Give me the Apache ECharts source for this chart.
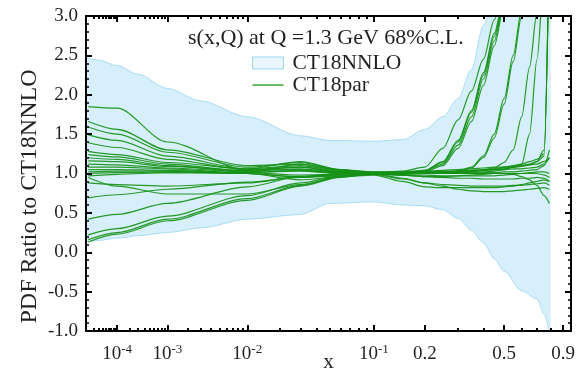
<!DOCTYPE html>
<html>
<head>
<meta charset="utf-8">
<script src="https://cdn.jsdelivr.net/npm/echarts@6/dist/echarts.min.js"></script>
<style>
  html, body { margin: 0; padding: 0; background: #fff; }
  #chart { width: 578px; height: 372px; }
</style>
</head>
<body>
<div id="chart"></div>
<script>
// x axis is drawn in t = x^0.2 space
var X_MIN = 1.07e-5;
var X_MAX = 0.969;

var tickX = [1e-4, 1e-3, 1e-2, 0.1, 0.2, 0.5, 0.9];
var tickLabels = [['10', '-4'], ['10', '-3'], ['10', '-2'], ['10', '-1'], ['0.2'], ['0.5'], ['0.9']];

// CT18NNLO 68% band
var bandX  = [1.07e-5, 3e-5, 1e-4, 3e-4, 1e-3, 3e-3, 0.01, 0.03, 0.05, 0.1, 0.15, 0.2, 0.25, 0.3, 0.35, 0.4, 0.45, 0.5, 0.6, 0.7, 0.75, 0.8];
var bandHi = [2.47, 2.44, 2.37, 2.26, 2.08, 1.92, 1.72, 1.48, 1.42, 1.41, 1.43, 1.56, 1.72, 1.95, 2.32, 2.88, 3.3, 3.55, 3.85, 4.05, 4.15, 4.25];
var bandLo = [0.13, 0.15, 0.18, 0.21, 0.25, 0.31, 0.42, 0.48, 0.62, 0.64, 0.60, 0.59, 0.54, 0.43, 0.28, 0.12, -0.08, -0.24, -0.49, -0.59, -0.78, -1.10];

// CT18par members
var parX = [1.3e-5, 1e-4, 1e-3, 0.01, 0.03, 0.06, 0.1, 0.15, 0.2, 0.25, 0.3, 0.35, 0.4, 0.45, 0.5, 0.55, 0.6, 0.65, 0.7, 0.75, 0.79];
var parSets = [
  [1.85, 1.83, 1.40, 1.04, 1.08, 1.02, 1.01, 1.03, 1.08, 1.32, 1.68, 2.05, 2.45, 2.95, 3.40, 3.8, 4.2, 4.5, 4.8, 5.0, 5.2],
  [1.66, 1.56, 1.30, 1.10, 1.12, 1.04, 1.02, 1.02, 1.02, 1.03, 1.03, 1.04, 1.04, 1.05, 1.05, 1.06, 1.06, 1.07, 1.08, 1.12, 1.20],
  [1.59, 1.50, 1.27, 1.08, 1.14, 1.05, 1.01, 1.01, 1.03, 1.12, 1.36, 1.72, 2.20, 2.68, 3.18, 3.6, 4.0, 4.4, 4.7, 4.9, 5.1],
  [1.49, 1.42, 1.22, 1.06, 1.10, 1.03, 1.00, 1.01, 1.04, 1.15, 1.42, 1.80, 2.28, 2.78, 3.25, 3.7, 4.1, 4.5, 4.8, 5.0, 5.2],
  [1.39, 1.33, 1.18, 1.05, 1.08, 1.02, 1.00, 1.00, 1.01, 1.01, 1.02, 1.03, 1.04, 1.05, 1.06, 1.08, 1.09, 1.11, 1.15, 1.30, 4.0],
  [1.28, 1.24, 1.14, 1.06, 1.15, 1.05, 1.02, 1.00, 1.00, 1.01, 1.03, 1.08, 1.22, 1.50, 1.95, 2.50, 3.08, 3.6, 4.0, 4.3, 4.5],
  [1.24, 1.21, 1.12, 1.03, 1.06, 1.02, 0.99, 0.98, 0.98, 0.97, 0.97, 0.97, 0.97, 0.97, 0.98, 0.99, 1.00, 1.01, 1.02, 1.02, 1.00],
  [1.20, 1.18, 1.10, 1.02, 1.12, 1.04, 1.01, 1.00, 1.02, 1.10, 1.32, 1.66, 2.12, 2.62, 3.12, 3.55, 3.95, 4.3, 4.6, 4.8, 5.0],
  [1.16, 1.15, 1.09, 1.04, 1.05, 1.01, 1.00, 1.01, 1.02, 1.02, 1.03, 1.04, 1.05, 1.06, 1.08, 1.10, 1.12, 1.15, 1.18, 1.25, 4.0],
  [1.12, 1.11, 1.07, 1.02, 1.03, 1.00, 1.00, 1.00, 1.00, 1.00, 1.00, 1.00, 1.01, 1.01, 1.02, 1.02, 1.03, 1.04, 1.05, 1.10, 1.30],
  [1.08, 1.08, 1.06, 1.00, 0.96, 0.98, 1.00, 1.00, 1.00, 1.00, 1.01, 1.02, 1.04, 1.07, 1.14, 1.30, 1.72, 2.35, 3.05, 3.70, 4.20],
  [1.05, 1.05, 1.04, 1.01, 0.98, 0.99, 0.99, 0.99, 1.00, 1.00, 1.00, 1.00, 1.00, 1.00, 1.00, 1.00, 1.00, 1.00, 1.00, 0.98, 0.95],
  [1.02, 1.03, 1.03, 1.00, 0.95, 0.97, 0.99, 1.00, 1.00, 1.00, 1.01, 1.01, 1.02, 1.03, 1.05, 1.08, 1.12, 1.50, 2.45, 3.50, 4.20],
  [1.00, 1.01, 1.02, 1.01, 1.04, 1.01, 1.01, 1.02, 1.04, 1.14, 1.40, 1.78, 2.25, 2.74, 3.22, 3.65, 4.05, 4.4, 4.7, 4.9, 5.1],
  [0.97, 0.99, 1.01, 1.00, 0.92, 0.96, 0.98, 0.90, 0.83, 0.82, 0.82, 0.82, 0.82, 0.82, 0.83, 0.84, 0.86, 0.88, 0.90, 0.92, 0.90],
  [0.95, 0.84, 0.74, 0.74, 0.86, 0.96, 1.00, 0.98, 0.96, 0.96, 0.97, 0.98, 0.99, 1.00, 1.00, 0.99, 0.96, 0.92, 0.85, 0.72, 0.62],
  [0.88, 0.86, 0.84, 0.88, 0.96, 1.00, 1.00, 0.94, 0.88, 0.86, 0.85, 0.84, 0.84, 0.84, 0.84, 0.85, 0.85, 0.86, 0.87, 0.88, 0.85],
  [0.69, 0.73, 0.80, 0.89, 0.95, 0.99, 1.01, 1.01, 1.01, 1.02, 1.02, 1.03, 1.04, 1.05, 1.07, 1.08, 1.10, 1.12, 1.15, 1.22, 4.0],
  [0.42, 0.48, 0.62, 0.83, 0.96, 1.00, 1.00, 0.98, 0.96, 0.95, 0.94, 0.94, 0.93, 0.93, 0.93, 0.93, 0.94, 0.94, 0.95, 0.94, 0.90],
  [0.22, 0.30, 0.46, 0.72, 0.88, 0.97, 1.00, 1.00, 1.00, 1.01, 1.03, 1.07, 1.20, 1.45, 1.88, 2.42, 3.0, 3.5, 3.9, 4.2, 4.4],
  [0.16, 0.25, 0.42, 0.68, 0.85, 0.96, 0.99, 0.93, 0.88, 0.84, 0.80, 0.78, 0.77, 0.77, 0.77, 0.78, 0.79, 0.80, 0.81, 0.82, 0.80],
  [0.13, 0.23, 0.40, 0.66, 0.84, 0.95, 1.00, 1.01, 1.03, 1.04, 1.05, 1.06, 1.07, 1.08, 1.08, 1.09, 1.10, 1.11, 1.12, 1.15, 1.20]
];

var FONT = '"Liberation Serif", "Times New Roman", serif';
var INK = '#231f20';

function tx(x) { return Math.pow(x, 0.2); }

// minor ticks: 2..9 per decade, plus 0.3,0.4,0.6,0.7,0.8
var minorX = [];
for (var k = -5; k <= -2; k++) {
  for (var m = 2; m <= 9; m++) {
    var v = m * Math.pow(10, k);
    if (v > X_MIN) minorX.push(v);
  }
}
minorX.push(0.3, 0.4, 0.6, 0.7, 0.8);

var majorT = tickX.map(tx);
var minorT = minorX.map(tx);

function tickFormatter(val) {
  var best = 0;
  for (var i = 1; i < majorT.length; i++) {
    if (Math.abs(majorT[i] - val) < Math.abs(majorT[best] - val)) best = i;
  }
  var lab = tickLabels[best];
  return lab.length > 1 ? '{n|' + lab[0] + '}{e|' + lab[1] + '}' : '{n|' + lab[0] + '}';
}

function xAxisDef(pos, ticks, len, main) {
  return {
    type: 'value',
    position: pos,
    z: 10,
    min: tx(X_MIN),
    max: tx(X_MAX),
    splitLine: { show: false },
    axisLine: { show: main, onZero: false, lineStyle: { color: '#000', width: 2 } },
    axisTick: { show: true, inside: true, length: len, customValues: ticks,
      lineStyle: { color: '#000', width: 2 } },
    axisLabel: main && pos === 'bottom' ? {
      show: true, customValues: majorT, margin: 12, formatter: tickFormatter,
      rich: {
        n: { fontFamily: FONT, fontSize: 19, color: INK, lineHeight: 22, verticalAlign: 'middle' },
        e: { fontFamily: FONT, fontSize: 13, color: INK, lineHeight: 13, verticalAlign: 'top' }
      }
    } : { show: false },
    name: main && pos === 'bottom' ? 'x' : '',
    nameLocation: 'middle',
    nameGap: 21,
    nameMoveOverlap: false,
    nameTextStyle: { fontFamily: FONT, fontSize: 21, color: INK }
  };
}

function yAxisDef(pos) {
  return {
    type: 'value',
    position: pos,
    z: 10,
    min: -1,
    max: 3,
    interval: 0.5,
    splitLine: { show: false },
    axisLine: { show: true, onZero: false, lineStyle: { color: '#000', width: 2 } },
    axisTick: { show: true, inside: true, length: 6, lineStyle: { color: '#000', width: 2 } },
    minorTick: { show: true, splitNumber: 5, length: 3, lineStyle: { color: '#000', width: 1.5 } },
    axisLabel: pos === 'left' ? {
      show: true, margin: 8, fontFamily: FONT, fontSize: 19, color: INK,
      formatter: function (v) { return v.toFixed(1); }
    } : { show: false },
    name: pos === 'left' ? 'PDF Ratio to CT18NNLO' : '',
    nameLocation: 'middle',
    nameGap: 44,
    nameMoveOverlap: false,
    nameTextStyle: { fontFamily: FONT, fontSize: 24, color: INK, padding: [0, 46, 0, 0] }
  };
}

function pairs(xs, ys) {
  return xs.map(function (x, i) { return [tx(x), ys[i]]; });
}

var series = [
  {
    name: 'CT18NNLO', type: 'line', smooth: 0.3, smoothMonotone: 'x',
    symbol: 'none', silent: true,
    lineStyle: { color: '#a9dbf4', width: 1 },
    itemStyle: { color: '#d6effb' },
    areaStyle: { color: '#d6effb', opacity: 1, origin: 'start' },
    data: pairs(bandX, bandHi)
  },
  {
    name: 'bandLo', type: 'line', smooth: 0.3, smoothMonotone: 'x',
    symbol: 'none', silent: true,
    lineStyle: { color: '#a9dbf4', width: 1 },
    areaStyle: { color: '#ffffff', opacity: 1, origin: 'start' },
    data: pairs(bandX, bandLo)
  }
];

parSets.forEach(function (set) {
  series.push({
    name: 'CT18par', type: 'line', smooth: 0.3, smoothMonotone: 'x',
    symbol: 'none', silent: true,
    lineStyle: { color: 'rgb(22,145,22)', width: 1.2, opacity: 0.92 },
    itemStyle: { color: '#2ca02c' },
    data: pairs(parX, set)
  });
});

var chart = echarts.init(document.getElementById('chart'), null, { renderer: 'canvas' });
chart.setOption({
  animation: false,
  backgroundColor: '#fff',
  grid: { left: 86, right: 7, top: 16, bottom: 41, containLabel: false, outerBoundsMode: 'none' },
  title: {
    text: 's(x,Q) at Q =1.3 GeV 68%C.L.',
    left: 188, top: 27, padding: 0,
    textStyle: { fontFamily: FONT, fontSize: 22, fontWeight: 'normal', color: INK }
  },
  legend: {
    orient: 'vertical', left: 252, top: 52, padding: 0,
    itemWidth: 31, itemHeight: 12, itemGap: 0,
    selectedMode: false,
    textStyle: { fontFamily: FONT, fontSize: 21.5, color: INK, lineHeight: 21, padding: [0, 0, 0, 4] },
    data: [
      { name: 'CT18NNLO', icon: 'rect',
        itemStyle: { color: '#e9f6fd', borderColor: '#9fd6f3', borderWidth: 1 } },
      { name: 'CT18par', icon: 'path://M0,0 L31,0 L31,1.5 L0,1.5 Z',
        itemStyle: { color: '#3aa93a', borderWidth: 0 } }
    ]
  },
  xAxis: [
    xAxisDef('bottom', majorT, 6, true),
    xAxisDef('bottom', minorT, 3, false),
    xAxisDef('top', majorT, 6, true),
    xAxisDef('top', minorT, 3, false)
  ],
  yAxis: [yAxisDef('left'), yAxisDef('right')],
  series: series
});
</script>
</body>
</html>
